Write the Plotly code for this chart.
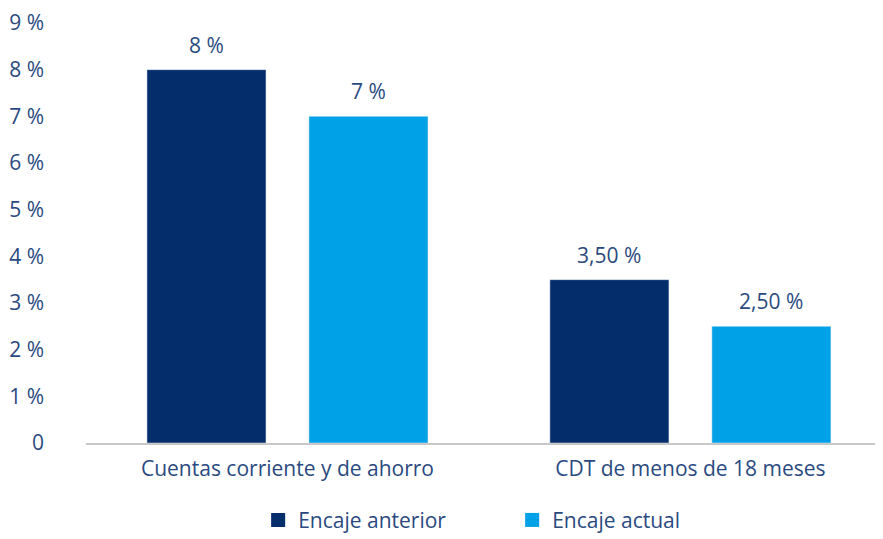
import plotly.graph_objects as go

categories = ["Cuentas corriente y de ahorro", "CDT de menos de 18 meses"]
encaje_anterior = [8, 3.5]
encaje_actual = [7, 2.5]
labels_anterior = ["8 %", "3,50 %"]
labels_actual = ["7 %", "2,50 %"]
tick_vals = [0, 1, 2, 3, 4, 5, 6, 7, 8, 9]
tick_text = ["0", "1 %", "2 %", "3 %", "4 %", "5 %", "6 %", "7 %", "8 %", "9 %"]

text_color = "#2a4a7f"
dark = "#032d6b"
light = "#00a1e6"
font_family = "Open Sans, Noto Sans, sans-serif"
fs = 21

fig = go.Figure()
fig.add_trace(go.Bar(
    name="Encaje anterior", x=categories, y=encaje_anterior,
    marker_color=dark, showlegend=False,
))
fig.add_trace(go.Bar(
    name="Encaje actual", x=categories, y=encaje_actual,
    marker_color=light, showlegend=False,
))
# legend entries with square markers
fig.add_trace(go.Scatter(name="Encaje anterior", x=[None], y=[None], mode="markers",
                         marker=dict(symbol="square", size=14, color=dark)))
fig.add_trace(go.Scatter(name="Encaje actual", x=[None], y=[None], mode="markers",
                         marker=dict(symbol="square", size=14, color=light)))

for cat, v, lab in zip(categories, encaje_anterior, labels_anterior):
    fig.add_annotation(x=cat, y=v, text=lab, showarrow=False, xshift=-81, yshift=9,
                       yanchor="bottom", font=dict(size=fs, color=text_color, family=font_family))
for cat, v, lab in zip(categories, encaje_actual, labels_actual):
    fig.add_annotation(x=cat, y=v, text=lab, showarrow=False, xshift=81, yshift=9,
                       yanchor="bottom", font=dict(size=fs, color=text_color, family=font_family))

fig.update_layout(
    width=875, height=531,
    margin=dict(l=78, r=0, t=15, b=96, autoexpand=False),
    paper_bgcolor="white", plot_bgcolor="white",
    barmode="group", bargap=0.196, bargroupgap=0.265,
    font=dict(family=font_family, color=text_color, size=fs),
    showlegend=True,
    legend=dict(orientation="h", x=0.216, xanchor="left", y=-0.184, yanchor="middle",
                font=dict(size=fs, color=text_color), itemwidth=30,
                traceorder="normal", entrywidth=209, entrywidthmode="pixels"),
)
fig.update_xaxes(
    type="category", range=[-0.5, 1.478], showgrid=False,
    showline=True, linecolor="#c8c8c8", linewidth=1.5, ticks="",
    ticklabelstandoff=6,
    tickfont=dict(size=fs, color=text_color),
)
fig.update_yaxes(
    range=[0, 9], tickvals=tick_vals, ticktext=tick_text, showgrid=False,
    zeroline=False, showline=False, ticks="", ticklabelstandoff=41,
    tickfont=dict(size=fs, color=text_color),
)

fig.write_html("out.html")
